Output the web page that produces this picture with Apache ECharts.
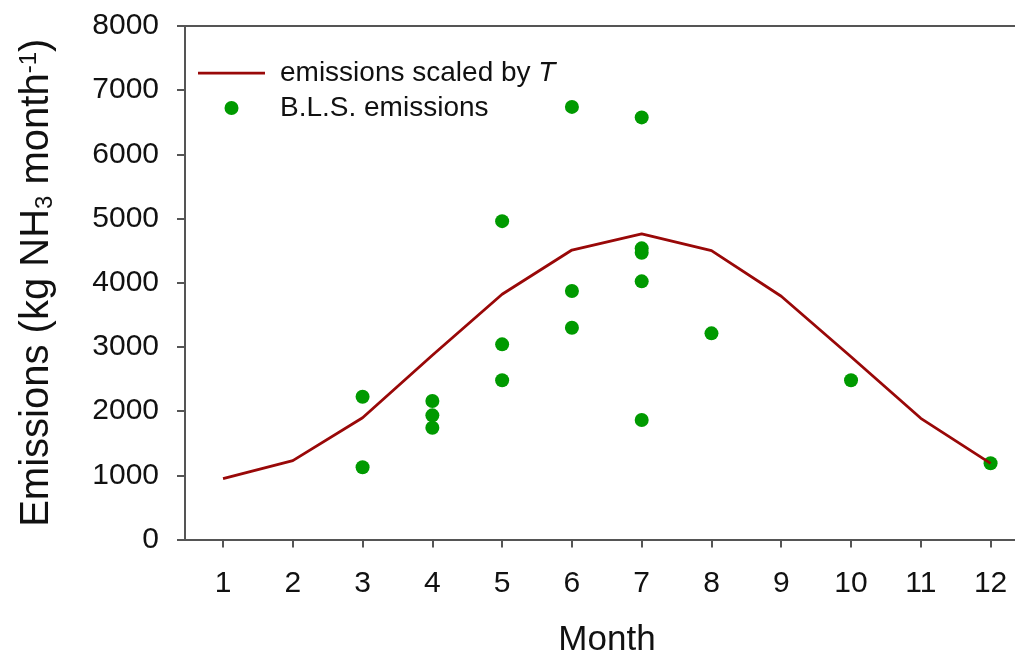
<!DOCTYPE html>
<html>
<head>
<meta charset="utf-8">
<script src="https://cdn.jsdelivr.net/npm/echarts@6/dist/echarts.min.js"></script>
<style>
  html, body { margin: 0; padding: 0; background: #fff; }
  #chart { width: 1015px; height: 653px; }
</style>
</head>
<body>
<div id="chart"></div>
<script>
// Monthly NH3 emissions: temperature-scaled curve and B.L.S. estimates
const months = [1, 2, 3, 4, 5, 6, 7, 8, 9, 10, 11, 12];
const monthLabels = ['1', '2', '3', '4', '5', '6', '7', '8', '9', '10', '11', '12'];
const scaledEmissions = [950, 1228, 1897, 2870, 3820, 4510, 4760, 4500, 3790, 2848, 1888, 1187];

const blsMonths = [3, 3, 4, 4, 4, 5, 5, 5, 6, 6, 6, 7, 7, 7, 7, 7, 8, 10, 12];
const blsValues = [2224, 1125, 2157, 1934, 1741, 4960, 3040, 2480, 6740, 3871, 3299,
                   6576, 4536, 4467, 4022, 1861, 3212, 2480, 1187];

const yMin = 0, yMax = 8000, yStep = 1000;

const lineName = 'emissions scaled by T';
const dotName = 'B.L.S. emissions';

const FONT = 'Liberation Sans, Arial, sans-serif';
const AXIS_COLOR = '#555';
const LINE_COLOR = '#990808';
const DOT_COLOR = '#009a00';

const chart = echarts.init(document.getElementById('chart'));

const xRange = { min: 0.455, max: 12.35 };

// thin horizontal bar, padded so it keeps its thickness inside the legend box
const lineIcon = 'path://M0,0 M0,5.2 L67,5.2 L67,8 L0,8 Z M67,13';

chart.setOption({
  animation: false,
  backgroundColor: '#fff',
  textStyle: { fontFamily: FONT, color: '#111' },
  grid: {
    left: 185, right: 0, top: 26, bottom: 113.5,
    containLabel: false,
    outerBoundsMode: 'none'
  },
  legend: {
    orient: 'vertical',
    left: 198,
    top: 59,
    padding: 0,
    itemWidth: 67,
    itemHeight: 14,
    itemGap: 7,
    data: [
      { name: lineName, icon: lineIcon },
      { name: dotName, icon: 'circle' }
    ],
    formatter: function (name) {
      return name === lineName ? 'emissions scaled by {i|T}' : name;
    },
    textStyle: {
      fontFamily: FONT,
      fontSize: 28,
      color: '#111',
      padding: [0, 0, 0, 10],
      rich: {
        i: { fontFamily: FONT, fontSize: 28, fontStyle: 'italic', color: '#111' }
      }
    }
  },
  xAxis: [
    {
      type: 'value',
      position: 'bottom',
      min: xRange.min,
      max: xRange.max,
      name: 'Month',
      nameLocation: 'middle',
      nameGap: 83,
      nameTextStyle: { fontFamily: FONT, fontSize: 35, color: '#111', padding: [0, 0, 0, 14] },
      splitLine: { show: false },
      axisLine: { show: true, lineStyle: { color: AXIS_COLOR, width: 2 } },
      axisTick: {
        show: true,
        inside: false,
        length: 8,
        customValues: months,
        lineStyle: { color: AXIS_COLOR, width: 2 }
      },
      axisLabel: {
        customValues: months,
        formatter: function (v) { return monthLabels[months.indexOf(v)]; },
        fontFamily: FONT,
        fontSize: 30,
        color: '#111',
        margin: 29
      }
    },
    {
      type: 'value',
      position: 'top',
      min: xRange.min,
      max: xRange.max,
      splitLine: { show: false },
      axisLine: { show: true, lineStyle: { color: AXIS_COLOR, width: 2 } },
      axisTick: { show: false },
      axisLabel: { show: false }
    }
  ],
  yAxis: {
    type: 'value',
    min: yMin,
    max: yMax,
    interval: yStep,
    name: 'Emissions (kg NH{sub|3} month{sup|-1})',
    nameLocation: 'middle',
    nameGap: 128,
    nameRotate: 90,
    nameTextStyle: {
      fontFamily: FONT,
      fontSize: 40,
      color: '#111',
      rich: {
        sub: { fontFamily: FONT, fontSize: 24, color: '#111', verticalAlign: 'bottom', padding: [16, 0, 0, 0] },
        sup: { fontFamily: FONT, fontSize: 24, color: '#111', verticalAlign: 'top', padding: [0, 0, 16, 0] }
      }
    },
    splitLine: { show: false },
    axisLine: { show: true, lineStyle: { color: AXIS_COLOR, width: 2 } },
    axisTick: { show: true, inside: false, length: 8, lineStyle: { color: AXIS_COLOR, width: 2 } },
    axisLabel: {
      fontFamily: FONT,
      fontSize: 30,
      color: '#111',
      margin: 26,
      formatter: function (v) { return String(v); }
    }
  },
  series: [
    {
      name: lineName,
      type: 'line',
      xAxisIndex: 0,
      symbol: 'none',
      data: months.map(function (m, i) { return [m, scaledEmissions[i]]; }),
      lineStyle: { color: LINE_COLOR, width: 2.8 },
      itemStyle: { color: LINE_COLOR }
    },
    {
      name: dotName,
      type: 'scatter',
      xAxisIndex: 0,
      symbol: 'circle',
      symbolSize: 14,
      data: blsMonths.map(function (m, i) { return [m, blsValues[i]]; }),
      itemStyle: { color: DOT_COLOR, opacity: 1 }
    }
  ]
});
</script>
</body>
</html>
